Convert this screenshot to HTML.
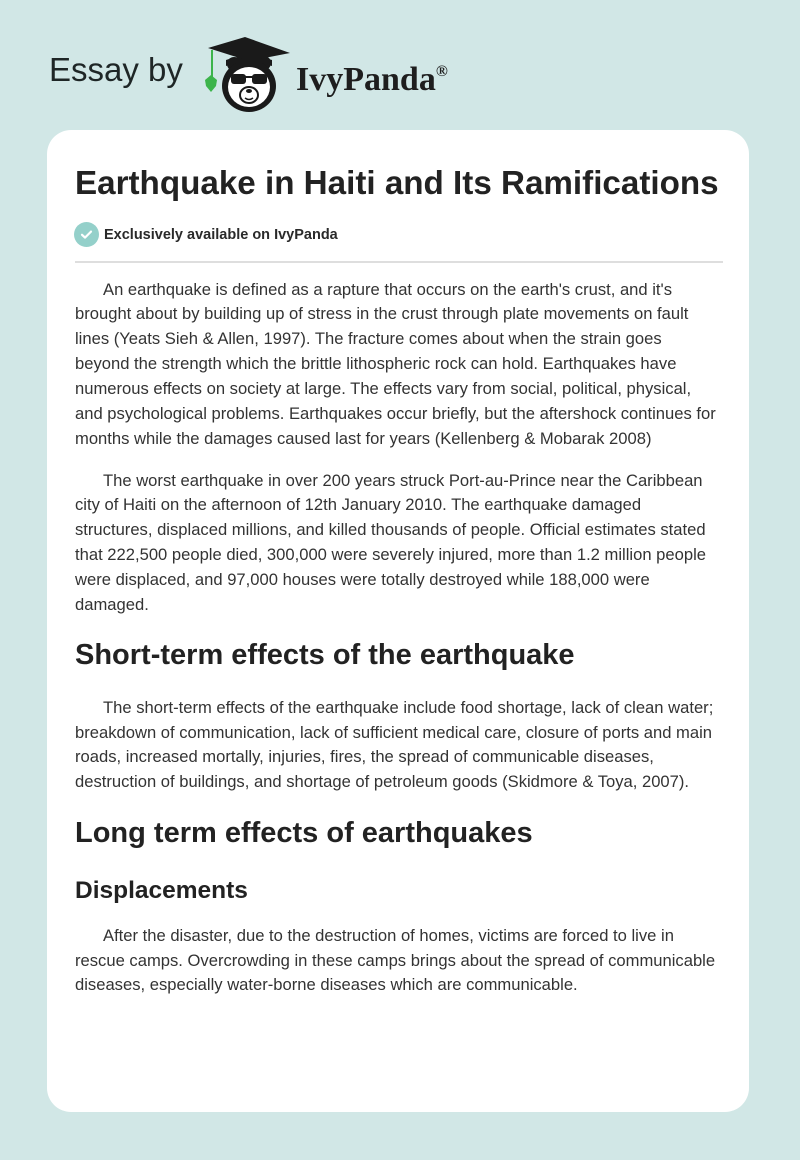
<!DOCTYPE html>
<html>
<head>
<meta charset="utf-8">
<style>
*{margin:0;padding:0;box-sizing:border-box;}
html,body{width:800px;height:1160px;overflow:hidden;}
body{background:#d1e7e6;position:relative;font-family:"Liberation Sans",Arial,sans-serif;}
.abs{position:absolute;white-space:nowrap;}
.card{position:absolute;left:47px;top:130px;width:702px;height:982px;background:#fff;border-radius:24px;}
.p{position:absolute;left:75px;font-size:16.6px;line-height:24.85px;color:#333;white-space:nowrap;}
.p .i{padding-left:28px;}
.h2{position:absolute;left:75px;font-size:29px;line-height:29px;font-weight:bold;color:#222;white-space:nowrap;}
</style>
</head>
<body>
<div class="abs" style="left:49px;top:53px;font-size:33px;line-height:33px;color:#1e2626;">Essay by</div>
<svg class="abs" style="left:200px;top:30px;" width="100" height="85" viewBox="200 30 100 85">
  <circle cx="234" cy="64" r="7" fill="#1a1a1a"/>
  <circle cx="264" cy="63" r="7" fill="#1a1a1a"/>
  <ellipse cx="249" cy="86" rx="27" ry="26" fill="#1a1a1a"/>
  <ellipse cx="249" cy="87" rx="21" ry="20" fill="#fff"/>
  <rect x="231" y="74" width="15" height="10" rx="3" fill="#1a1a1a"/>
  <rect x="252" y="74" width="15" height="10" rx="3" fill="#1a1a1a"/>
  <rect x="244" y="76" width="10" height="2" fill="#1a1a1a"/>
  <ellipse cx="249" cy="95" rx="9" ry="8" fill="#fff" stroke="#1a1a1a" stroke-width="2"/>
  <ellipse cx="249" cy="91" rx="3" ry="2" fill="#1a1a1a"/>
  <path d="M245 98 Q249 101 253 98" stroke="#1a1a1a" stroke-width="1.5" fill="none"/>
  <path d="M226 60 Q249 52 272 60 L272 66 Q249 58 226 66 Z" fill="#1a1a1a"/>
  <polygon points="208,48 245,37 290,53 249,61" fill="#1a1a1a"/>
  <line x1="212" y1="50" x2="212" y2="77" stroke="#3cb44b" stroke-width="2"/>
  <path d="M211 75 L217 80 L216 86 L211 92 L206 86 L205 80 Z" fill="#3cb44b"/>
</svg>
<div class="abs" style="left:296px;top:54.5px;font-family:'Liberation Serif','Times New Roman',serif;font-weight:bold;font-size:34px;line-height:34px;color:#1e1e1e;">IvyPanda<span style="font-size:16px;vertical-align:14px;">®</span></div>

<div class="card"></div>

<div class="abs" style="left:75px;top:167px;font-size:33.2px;line-height:33px;font-weight:bold;color:#222;">Earthquake in Haiti and Its Ramifications</div>

<div class="abs" style="left:74px;top:222px;width:25px;height:25px;border-radius:50%;background:#94d0ca;"></div>
<svg class="abs" style="left:74px;top:222px;" width="25" height="25"><path d="M8 12.8 L11 15.6 L17 9.6" stroke="#fff" stroke-width="2.2" fill="none" stroke-linecap="round" stroke-linejoin="round"/></svg>
<div class="abs" style="left:104px;top:227.7px;font-size:14.5px;line-height:14.5px;font-weight:bold;color:#2a2a2a;">Exclusively available on IvyPanda</div>

<div class="abs" style="left:75px;top:261px;width:648px;height:2px;background:#dedede;"></div>

<div class="p" style="top:277.5px;">
<div class="i">An earthquake is defined as a rapture that occurs on the earth's crust, and it's</div>
<div>brought about by building up of stress in the crust through plate movements on fault</div>
<div>lines (Yeats Sieh &amp; Allen, 1997). The fracture comes about when the strain goes</div>
<div>beyond the strength which the brittle lithospheric rock can hold. Earthquakes have</div>
<div>numerous effects on society at large. The effects vary from social, political, physical,</div>
<div>and psychological problems. Earthquakes occur briefly, but the aftershock continues for</div>
<div>months while the damages caused last for years (Kellenberg &amp; Mobarak 2008)</div>
</div>

<div class="p" style="top:468.5px;">
<div class="i">The worst earthquake in over 200 years struck Port-au-Prince near the Caribbean</div>
<div>city of Haiti on the afternoon of 12th January 2010. The earthquake damaged</div>
<div>structures, displaced millions, and killed thousands of people. Official estimates stated</div>
<div>that 222,500 people died, 300,000 were severely injured, more than 1.2 million people</div>
<div>were displaced, and 97,000 houses were totally destroyed while 188,000 were</div>
<div>damaged.</div>
</div>

<div class="h2" style="top:640.5px;">Short-term effects of the earthquake</div>

<div class="p" style="top:695.8px;">
<div class="i">The short-term effects of the earthquake include food shortage, lack of clean water;</div>
<div>breakdown of communication, lack of sufficient medical care, closure of ports and main</div>
<div>roads, increased mortally, injuries, fires, the spread of communicable diseases,</div>
<div>destruction of buildings, and shortage of petroleum goods (Skidmore &amp; Toya, 2007).</div>
</div>

<div class="h2" style="top:818.8px;">Long term effects of earthquakes</div>

<div class="abs" style="left:75px;top:878.6px;font-size:24.5px;line-height:24.5px;font-weight:bold;color:#222;">Displacements</div>

<div class="p" style="top:923.8px;">
<div class="i">After the disaster, due to the destruction of homes, victims are forced to live in</div>
<div>rescue camps. Overcrowding in these camps brings about the spread of communicable</div>
<div>diseases, especially water-borne diseases which are communicable.</div>
</div>
</body>
</html>
